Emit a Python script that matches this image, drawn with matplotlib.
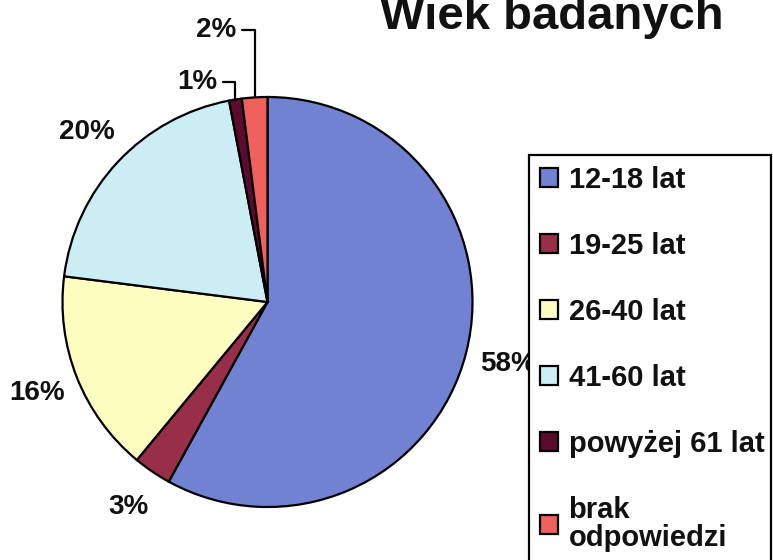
import numpy as np
import matplotlib
matplotlib.use("Agg")
import matplotlib.pyplot as plt
from matplotlib.patches import Rectangle

plt.rcParams['font.family'] = ['Liberation Sans', 'DejaVu Sans']

# data
labels = ['12-18 lat', '19-25 lat', '26-40 lat', '41-60 lat', 'powyżej 61 lat', 'brak\nodpowiedzi']
values = [58, 3, 16, 20, 1, 2]
colors = ['#7282d2', '#992e48', '#fdfdc0', '#cdedf5', '#5c0a2e', '#f0605c']
title = 'Wiek badanych'

W, H = 773, 560
fig = plt.figure(figsize=(W / 100, H / 100), dpi=100)
ax = fig.add_axes([0, 0, 1, 1])

cx, cy, r = 267.5, 258, 205

def fmt(p):
    return '' if p < 2.5 else '%1.0f%%' % p

wedges, texts, autotexts = ax.pie(values, colors=colors, startangle=90, counterclock=False,
                                  center=(cx, cy), radius=r, autopct=fmt, pctdistance=1.21,
                                  wedgeprops=dict(edgecolor='black', linewidth=1.6),
                                  textprops=dict(fontsize=20, fontweight='bold', color='#111111'))

# small slices get leader lines
total = float(sum(values))
start = 0.0
mids = []
for v in values:
    mids.append(start + v / 2)
    start += v
small = {4: (197, 478), 5: (216, 530)}
for i, (tx, ty) in small.items():
    ang = np.deg2rad(90 - mids[i] / total * 360)
    px, py = cx + r * np.cos(ang), cy + r * np.sin(ang)
    ax.annotate('%d%%' % values[i], xy=(px, py), xytext=(tx, ty), ha='center', va='center',
                fontsize=20, fontweight='bold', color='#111111',
                arrowprops=dict(arrowstyle='-', connectionstyle='angle,angleA=0,angleB=90,rad=0',
                                color='black', lw=1.6, shrinkA=2, shrinkB=0))

ax.text(380, 531, title, fontsize=34, fontweight='bold', ha='left', va='baseline', color='#111111')

# legend box
ax.add_patch(Rectangle((529, -20), 242, H - 155 + 20, facecolor='white', edgecolor='black',
                       linewidth=1.6, zorder=3))
leg = ax.legend(wedges, labels, loc='upper left', bbox_to_anchor=(540, H - 166),
                bbox_transform=ax.transData, frameon=False, borderpad=0, borderaxespad=0,
                handlelength=0.62, handleheight=0.62, handletextpad=0.36, labelspacing=1.3,
                prop=dict(family='Liberation Sans', weight='bold', size=21))
leg.set_zorder(5)
for t in leg.get_texts():
    t.set_color('#111111')
leg.get_texts()[-1].set_linespacing(1.0)

ax.set_xlim(0, W)
ax.set_ylim(0, H)
ax.set_aspect('equal')
ax.axis('off')

fig.savefig('out.png', dpi=100)
